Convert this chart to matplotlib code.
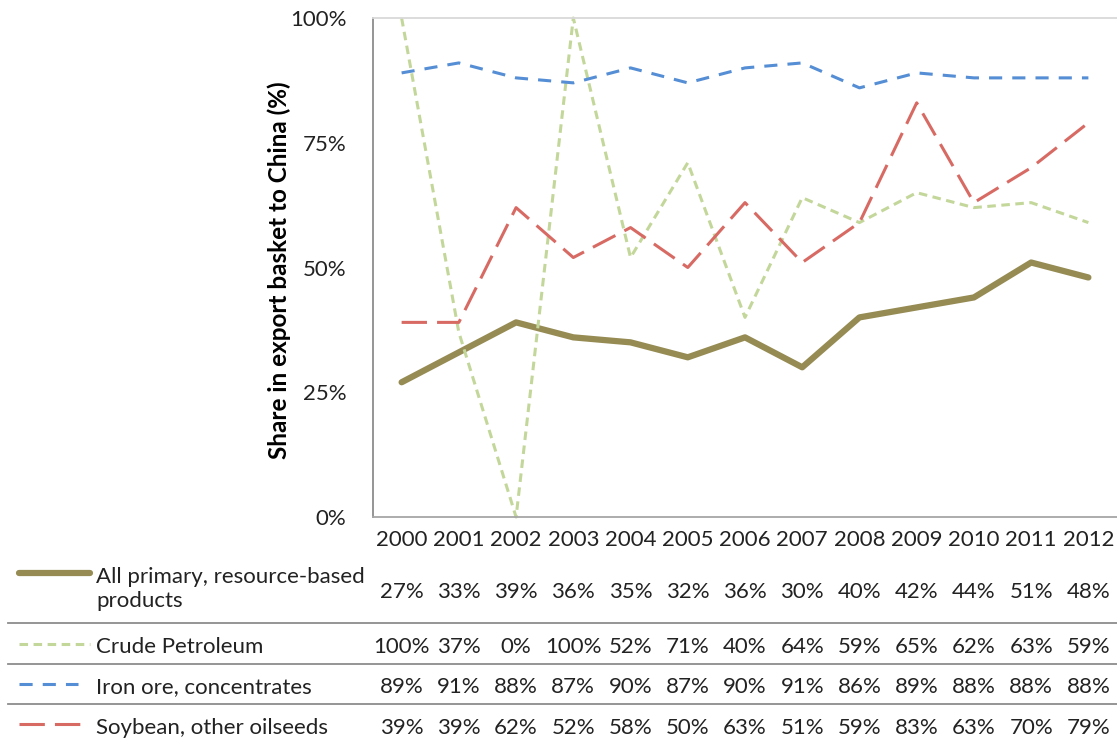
import matplotlib.pyplot as plt
from matplotlib.lines import Line2D
from matplotlib.transforms import blended_transform_factory

plt.rcParams["font.family"] = ["Lato", "DejaVu Sans"]

years = ["2000", "2001", "2002", "2003", "2004", "2005", "2006",
         "2007", "2008", "2009", "2010", "2011", "2012"]
all_primary = [27, 33, 39, 36, 35, 32, 36, 30, 40, 42, 44, 51, 48]
crude_petroleum = [100, 37, 0, 100, 52, 71, 40, 64, 59, 65, 62, 63, 59]
iron_ore = [89, 91, 88, 87, 90, 87, 90, 91, 86, 89, 88, 88, 88]
soybean = [39, 39, 62, 52, 58, 50, 63, 51, 59, 83, 63, 70, 79]
series_labels = ["All primary, resource-based\nproducts", "Crude Petroleum",
                 "Iron ore, concentrates", "Soybean, other oilseeds"]

W, H = 1117, 740
TXT = "#222222"
FS = 16

styles = [
    dict(color="#958B53", lw=4.5, solid_capstyle="round", solid_joinstyle="round"),
    dict(color="#C4D79B", lw=2.2, dashes=(2.8, 1.8)),
    dict(color="#558ED5", lw=2.2, dashes=(4.3, 3.3)),
    dict(color="#D86A64", lw=2.2, dashes=(8.3, 3.3)),
]
series = [all_primary, crude_petroleum, iron_ore, soybean]

fig = plt.figure(figsize=(W / 100, H / 100), dpi=100)
ax = fig.add_axes([373 / W, 1 - 517 / H, (W - 373) / W, (517 - 18) / H])

x = list(range(len(years)))
for vals, st in zip(series, styles):
    ax.plot(x, vals, clip_on=False, **st)

ax.set_xlim(-0.5, len(years) - 0.5)
ax.set_ylim(0, 100)
ax.set_yticks([0, 25, 50, 75, 100])
ax.set_yticklabels(["0%", "25%", "50%", "75%", "100%"])
ax.set_xticks(x)
ax.set_xticklabels(years)
ax.tick_params(axis="y", length=0, pad=19, labelsize=FS, labelcolor=TXT)
ax.tick_params(axis="x", length=0, pad=9, labelsize=FS, labelcolor=TXT)

ax.spines["right"].set_visible(False)
ax.spines["left"].set_color("#8C8C8C")
ax.spines["bottom"].set_color("#A6A6A6")
ax.spines["top"].set_color("#D9D9D9")
for s in ("left", "bottom", "top"):
    ax.spines[s].set_linewidth(1.3)

fig.text(279 / W, 1 - 270 / H, "Share in export basket to China (%)",
         rotation=90, ha="center", va="center", fontsize=17.5,
         fontweight="bold", color="black")

# data table under the chart
tr = blended_transform_factory(ax.transData, fig.transFigure)
row_y = [592, 647, 687, 728]
sample_y = [573, 644, 684, 724]
sample_end = [90, 90, 78, 81]
label_y = [589, 647, 687, 728]
for i, vals in enumerate(series):
    fy = 1 - row_y[i] / H
    for xi, v in zip(x, vals):
        ax.text(xi, fy, f"{v}%", transform=tr, ha="center", va="center",
                fontsize=FS, color=TXT)
    sy = 1 - sample_y[i] / H
    fig.add_artist(Line2D([19 / W, sample_end[i] / W], [sy, sy],
                          transform=fig.transFigure, **styles[i]))
    fig.text(96 / W, 1 - label_y[i] / H, series_labels[i], ha="left", va="center",
             fontsize=FS, color=TXT, linespacing=1.22)

for py in (623, 664, 704):
    fig.add_artist(Line2D([8 / W, 1], [1 - py / H, 1 - py / H],
                          transform=fig.transFigure, color="#8C8C8C", lw=1.3))

fig.savefig("out.png", dpi=100)
